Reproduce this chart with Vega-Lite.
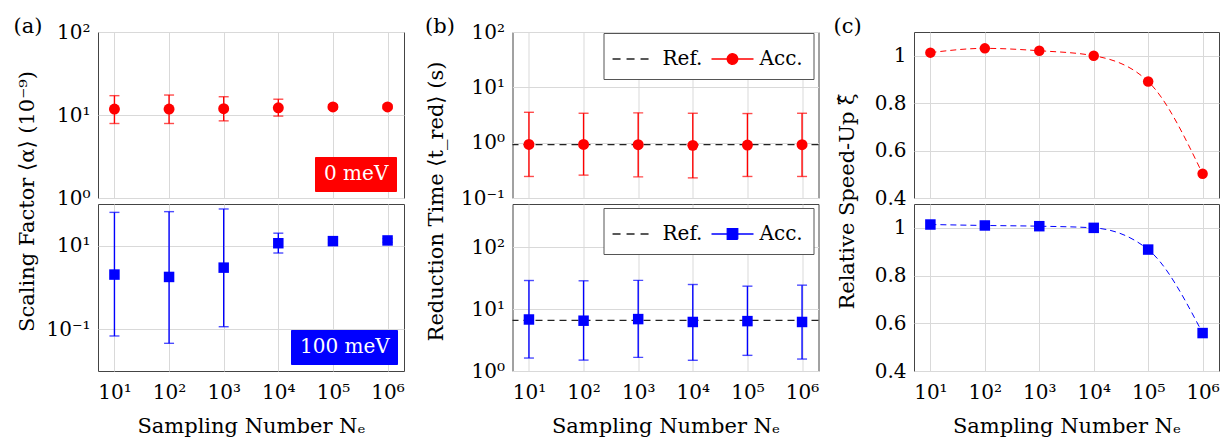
{
  "$schema": "https://vega.github.io/schema/vega-lite/v6.json",
  "background": "white",
  "padding": {"left": 12, "top": 14, "right": 0, "bottom": 0},
  "datasets": {
    "aTop": [
      {"N": 10, "alpha": 11.8, "lo": 7.9, "hi": 17.1, "energy": "0 meV"},
      {"N": 100, "alpha": 11.8, "lo": 7.9, "hi": 17.4, "energy": "0 meV"},
      {"N": 1000, "alpha": 11.9, "lo": 8.5, "hi": 16.6, "energy": "0 meV"},
      {"N": 10000, "alpha": 12.2, "lo": 9.7, "hi": 15.5, "energy": "0 meV"},
      {"N": 100000, "alpha": 12.5, "lo": 11.8, "hi": 13.3, "energy": "0 meV"},
      {"N": 1000000, "alpha": 12.5, "lo": 11.9, "hi": 13.2, "energy": "0 meV"}
    ],
    "aBot": [
      {"N": 10, "alpha": 2.04, "lo": 0.069, "hi": 63, "energy": "100 meV"},
      {"N": 100, "alpha": 1.79, "lo": 0.046, "hi": 65.6, "energy": "100 meV"},
      {"N": 1000, "alpha": 2.99, "lo": 0.115, "hi": 76, "energy": "100 meV"},
      {"N": 10000, "alpha": 11.5, "lo": 6.7, "hi": 20, "energy": "100 meV"},
      {"N": 100000, "alpha": 12.9, "lo": 11.6, "hi": 14.3, "energy": "100 meV"},
      {"N": 1000000, "alpha": 13.4, "lo": 12.1, "hi": 14.8, "energy": "100 meV"}
    ],
    "bTop": [
      {"N": 10, "t": 0.93, "lo": 0.245, "hi": 3.54},
      {"N": 100, "t": 0.93, "lo": 0.259, "hi": 3.40},
      {"N": 1000, "t": 0.92, "lo": 0.241, "hi": 3.46},
      {"N": 10000, "t": 0.894, "lo": 0.231, "hi": 3.40},
      {"N": 100000, "t": 0.905, "lo": 0.245, "hi": 3.36},
      {"N": 1000000, "t": 0.92, "lo": 0.245, "hi": 3.40}
    ],
    "bBot": [
      {"N": 10, "t": 6.8, "lo": 1.62, "hi": 29},
      {"N": 100, "t": 6.5, "lo": 1.50, "hi": 28.7},
      {"N": 1000, "t": 6.9, "lo": 1.66, "hi": 29.2},
      {"N": 10000, "t": 6.2, "lo": 1.49, "hi": 25},
      {"N": 100000, "t": 6.4, "lo": 1.79, "hi": 23.5},
      {"N": 1000000, "t": 6.2, "lo": 1.56, "hi": 24.4}
    ],
    "bTopRef": [{"ref": 0.92}],
    "bBotRef": [{"ref": 6.6}],
    "cTop": [
      {"N": 10, "xi": 1.013},
      {"N": 100, "xi": 1.031},
      {"N": 1000, "xi": 1.021},
      {"N": 10000, "xi": 1.0},
      {"N": 100000, "xi": 0.891},
      {"N": 1000000, "xi": 0.502}
    ],
    "cBot": [
      {"N": 10, "xi": 1.014},
      {"N": 100, "xi": 1.01},
      {"N": 1000, "xi": 1.007},
      {"N": 10000, "xi": 1.0},
      {"N": 100000, "xi": 0.909},
      {"N": 1000000, "xi": 0.559}
    ]
  },
  "config": {
    "font": "DejaVu Serif",
    "view": {"stroke": "#444", "strokeWidth": 1},
    "axis": {
      "labelFont": "DejaVu Serif", "titleFont": "DejaVu Serif",
      "labelFontSize": 20, "titleFontSize": 21, "titleFontWeight": "normal",
      "labelColor": "#000", "titleColor": "#000",
      "grid": true, "gridColor": "#d9d9d9", "gridWidth": 1,
      "domain": false, "ticks": false, "tickSize": 0, "labelPadding": 8,
      "labelFlush": false, "labelOverlap": false
    },
    "legend": {"labelFont": "DejaVu Serif", "labelFontSize": 20, "title": null}
  },
  "align": "none",
  "spacing": 11.5,
  "resolve": {"scale": {"color": "independent", "fill": "independent", "stroke": "independent", "shape": "independent", "strokeDash": "independent"}, "legend": {"color": "independent", "fill": "independent", "stroke": "independent", "shape": "independent", "strokeDash": "independent"}},
  "hconcat": [
    {
      "vconcat": [
        {
          "width": 306, "height": 166,
          "data": {"name": "aTop"},
          "layer": [
            {
              "mark": {"type": "errorbar", "ticks": true, "size": 10, "thickness": 1.4, "color": "#ff0000"},
              "encoding": {
                "x": {"field": "N", "type": "quantitative", "scale": {"type": "log", "domain": [5, 2000000], "nice": false}, "axis": {"orient": "top", "values": [10, 100, 1000, 10000, 100000, 1000000], "labels": false, "title": "(a)", "titleX": -85, "titleY": 0, "titleAlign": "left", "titleBaseline": "alphabetic", "titleAngle": 0}},
                "y": {"field": "lo", "type": "quantitative", "scale": {"type": "log", "domain": [1, 100], "nice": false}, "axis": {"values": [1, 10, 100], "labelExpr": "'10' + ['⁻²','⁻¹','⁰','¹','²','³','⁴','⁵','⁶'][round(log(datum.value)/LN10) + 2]", "title": "Scaling Factor ⟨α⟩ (10⁻⁹)", "titleX": -60.5, "titleY": 169}},
                "y2": {"field": "hi"}
              }
            },
            {
              "mark": {"type": "point", "filled": true, "shape": "circle", "size": 120, "opacity": 1},
              "encoding": {
                "x": {"field": "N", "type": "quantitative", "scale": {"type": "log", "domain": [5, 2000000], "nice": false}, "axis": {"orient": "top", "values": [10, 100, 1000, 10000, 100000, 1000000], "labels": false, "title": "(a)", "titleX": -85, "titleY": 0, "titleAlign": "left", "titleBaseline": "alphabetic", "titleAngle": 0}},
                "y": {"field": "alpha", "type": "quantitative", "scale": {"type": "log", "domain": [1, 100], "nice": false}, "axis": {"values": [1, 10, 100], "labelExpr": "'10' + ['⁻²','⁻¹','⁰','¹','²','³','⁴','⁵','⁶'][round(log(datum.value)/LN10) + 2]", "title": "Scaling Factor ⟨α⟩ (10⁻⁹)", "titleX": -60.5, "titleY": 169}},
                "color": {"field": "energy", "type": "nominal", "scale": {"domain": ["0 meV"], "range": ["#ff0000"]},
                  "legend": {"orient": "none", "legendX": 217, "legendY": 125, "title": null, "padding": 7, "fillColor": "#ff0000", "strokeColor": "#ff0000", "labelColor": "#ffffff", "labelFontSize": 20, "symbolSize": 4, "symbolOpacity": 0, "labelOffset": -18}}
              }
            }
          ]
        },
        {
          "width": 306, "height": 167,
          "data": {"name": "aBot"},
          "layer": [
            {
              "mark": {"type": "errorbar", "ticks": true, "size": 10, "thickness": 1.4, "color": "#0000ff"},
              "encoding": {
                "x": {"field": "N", "type": "quantitative", "scale": {"type": "log", "domain": [5, 2000000], "nice": false}, "axis": {"values": [10, 100, 1000, 10000, 100000, 1000000], "labelExpr": "'10' + ['⁻²','⁻¹','⁰','¹','²','³','⁴','⁵','⁶'][round(log(datum.value)/LN10) + 2]", "labelBaseline": "alphabetic", "labelPadding": 27.6, "title": "Sampling Number Nₑ", "titleBaseline": "alphabetic", "titleX": 153, "titleY": 61}},
                "y": {"field": "lo", "type": "quantitative", "scale": {"type": "log", "domain": [0.01, 100], "nice": false}, "axis": {"values": [0.1, 10], "labelExpr": "'10' + ['⁻²','⁻¹','⁰','¹','²','³','⁴','⁵','⁶'][round(log(datum.value)/LN10) + 2]", "title": " ", "titleX": 313.5, "titleY": 80}},
                "y2": {"field": "hi"}
              }
            },
            {
              "mark": {"type": "point", "filled": true, "shape": "square", "size": 110, "opacity": 1},
              "encoding": {
                "x": {"field": "N", "type": "quantitative", "scale": {"type": "log", "domain": [5, 2000000], "nice": false}, "axis": {"values": [10, 100, 1000, 10000, 100000, 1000000], "labelExpr": "'10' + ['⁻²','⁻¹','⁰','¹','²','³','⁴','⁵','⁶'][round(log(datum.value)/LN10) + 2]", "labelBaseline": "alphabetic", "labelPadding": 27.6, "title": "Sampling Number Nₑ", "titleBaseline": "alphabetic", "titleX": 153, "titleY": 61}},
                "y": {"field": "alpha", "type": "quantitative", "scale": {"type": "log", "domain": [0.01, 100], "nice": false}, "axis": {"values": [0.1, 10], "labelExpr": "'10' + ['⁻²','⁻¹','⁰','¹','²','³','⁴','⁵','⁶'][round(log(datum.value)/LN10) + 2]", "title": " ", "titleX": 313.5, "titleY": 80}},
                "color": {"field": "energy", "type": "nominal", "scale": {"domain": ["100 meV"], "range": ["#0000ff"]},
                  "legend": {"orient": "none", "legendX": 193, "legendY": 126, "title": null, "padding": 7, "fillColor": "#0000ff", "strokeColor": "#0000ff", "labelColor": "#ffffff", "labelFontSize": 20, "symbolSize": 4, "symbolOpacity": 0, "labelOffset": -18}}
              }
            }
          ]
        }
      ],
      "spacing": 6,
      "bounds": "flush",
      "resolve": {"scale": {"color": "independent"}, "legend": {"color": "independent"}}
    },
    {
      "vconcat": [
        {
          "width": 306, "height": 166,
          "layer": [
            {
              "data": {"name": "bTopRef"},
              "mark": {"type": "rule", "color": "#222", "strokeDash": [7, 5], "strokeWidth": 1.3},
              "encoding": {
                "y": {"field": "ref", "type": "quantitative", "scale": {"type": "log", "domain": [0.1, 100], "nice": false}, "axis": {"values": [0.1, 1, 10, 100], "labelExpr": "'10' + ['⁻²','⁻¹','⁰','¹','²','³','⁴','⁵','⁶'][round(log(datum.value)/LN10) + 2]", "title": "Reduction Time ⟨t_red⟩ (s)", "titleX": -66, "titleY": 169}}
              }
            },
            {
              "data": {"name": "bTop"},
              "mark": {"type": "errorbar", "ticks": true, "size": 10, "thickness": 1.4, "color": "#ff0000"},
              "encoding": {
                "x": {"field": "N", "type": "quantitative", "scale": {"type": "log", "domain": [5, 2000000], "nice": false}, "axis": {"orient": "top", "values": [10, 100, 1000, 10000, 100000, 1000000], "labels": false, "title": "(b)", "titleX": -88, "titleY": 0, "titleAlign": "left", "titleBaseline": "alphabetic", "titleAngle": 0}},
                "y": {"field": "lo", "type": "quantitative", "scale": {"type": "log", "domain": [0.1, 100], "nice": false}, "axis": {"values": [0.1, 1, 10, 100], "labelExpr": "'10' + ['⁻²','⁻¹','⁰','¹','²','³','⁴','⁵','⁶'][round(log(datum.value)/LN10) + 2]", "title": "Reduction Time ⟨t_red⟩ (s)", "titleX": -66, "titleY": 169}},
                "y2": {"field": "hi"}
              }
            },
            {
              "data": {"name": "bTop"},
              "mark": {"type": "point", "filled": true, "shape": "circle", "size": 120, "opacity": 1, "color": "#ff0000"},
              "encoding": {
                "x": {"field": "N", "type": "quantitative", "scale": {"type": "log", "domain": [5, 2000000], "nice": false}, "axis": {"orient": "top", "values": [10, 100, 1000, 10000, 100000, 1000000], "labels": false, "title": "(b)", "titleX": -88, "titleY": 0, "titleAlign": "left", "titleBaseline": "alphabetic", "titleAngle": 0}},
                "y": {"field": "t", "type": "quantitative", "scale": {"type": "log", "domain": [0.1, 100], "nice": false}, "axis": {"values": [0.1, 1, 10, 100], "labelExpr": "'10' + ['⁻²','⁻¹','⁰','¹','²','³','⁴','⁵','⁶'][round(log(datum.value)/LN10) + 2]", "title": "Reduction Time ⟨t_red⟩ (s)", "titleX": -66, "titleY": 169}}
              }
            },
            {
              "data": {"values": []},
              "mark": {"type": "point", "opacity": 1, "strokeWidth": 1.3},
              "encoding": {
                "fill": {"field": "series", "type": "nominal", "scale": {"domain": ["Ref.", "Acc."], "range": ["transparent", "#ff0000"]},
                  "legend": {"orient": "none", "legendX": 91, "legendY": 1, "direction": "horizontal", "title": null, "padding": 10, "strokeColor": "#555", "fillColor": "#ffffff", "cornerRadius": 0, "symbolSize": 900, "labelOffset": 17, "columnPadding": 6, "labelFontSize": 20, "labelColor": "#000", "symbolStrokeWidth": 1.3}},
                "stroke": {"field": "series", "type": "nominal", "scale": {"domain": ["Ref.", "Acc."], "range": ["#222222", "#ff0000"]}},
                "shape": {"field": "series", "type": "nominal", "scale": {"domain": ["Ref.", "Acc."], "range": ["M-1.13,0H1.33", "M-1,0H1.8M0.05,0A0.35,0.35 0 1,1 0.75,0A0.35,0.35 0 1,1 0.05,0Z"]}},
                "strokeDash": {"field": "series", "type": "nominal", "scale": {"domain": ["Ref.", "Acc."], "range": [[8, 6], [1, 0]]}}
              }
            }
          ]
        },
        {
          "width": 306, "height": 167,
          "layer": [
            {
              "data": {"name": "bBotRef"},
              "mark": {"type": "rule", "color": "#222", "strokeDash": [7, 5], "strokeWidth": 1.3},
              "encoding": {
                "y": {"field": "ref", "type": "quantitative", "scale": {"type": "log", "domain": [1, 500], "nice": false}, "axis": {"values": [1, 10, 100], "labelExpr": "'10' + ['⁻²','⁻¹','⁰','¹','²','³','⁴','⁵','⁶'][round(log(datum.value)/LN10) + 2]", "title": null}}
              }
            },
            {
              "data": {"name": "bBot"},
              "mark": {"type": "errorbar", "ticks": true, "size": 10, "thickness": 1.4, "color": "#0000ff"},
              "encoding": {
                "x": {"field": "N", "type": "quantitative", "scale": {"type": "log", "domain": [5, 2000000], "nice": false}, "axis": {"values": [10, 100, 1000, 10000, 100000, 1000000], "labelExpr": "'10' + ['⁻²','⁻¹','⁰','¹','²','³','⁴','⁵','⁶'][round(log(datum.value)/LN10) + 2]", "labelBaseline": "alphabetic", "labelPadding": 27.6, "title": "Sampling Number Nₑ", "titleBaseline": "alphabetic", "titleX": 153, "titleY": 61}},
                "y": {"field": "lo", "type": "quantitative", "scale": {"type": "log", "domain": [1, 500], "nice": false}, "axis": {"values": [1, 10, 100], "labelExpr": "'10' + ['⁻²','⁻¹','⁰','¹','²','³','⁴','⁵','⁶'][round(log(datum.value)/LN10) + 2]", "title": null}},
                "y2": {"field": "hi"}
              }
            },
            {
              "data": {"name": "bBot"},
              "mark": {"type": "point", "filled": true, "shape": "square", "size": 110, "opacity": 1, "color": "#0000ff"},
              "encoding": {
                "x": {"field": "N", "type": "quantitative", "scale": {"type": "log", "domain": [5, 2000000], "nice": false}, "axis": {"values": [10, 100, 1000, 10000, 100000, 1000000], "labelExpr": "'10' + ['⁻²','⁻¹','⁰','¹','²','³','⁴','⁵','⁶'][round(log(datum.value)/LN10) + 2]", "labelBaseline": "alphabetic", "labelPadding": 27.6, "title": "Sampling Number Nₑ", "titleBaseline": "alphabetic", "titleX": 153, "titleY": 61}},
                "y": {"field": "t", "type": "quantitative", "scale": {"type": "log", "domain": [1, 500], "nice": false}, "axis": {"values": [1, 10, 100], "labelExpr": "'10' + ['⁻²','⁻¹','⁰','¹','²','³','⁴','⁵','⁶'][round(log(datum.value)/LN10) + 2]", "title": null}}
              }
            },
            {
              "data": {"values": []},
              "mark": {"type": "point", "opacity": 1, "strokeWidth": 1.3},
              "encoding": {
                "fill": {"field": "series", "type": "nominal", "scale": {"domain": ["Ref.", "Acc."], "range": ["transparent", "#0000ff"]},
                  "legend": {"orient": "none", "legendX": 91, "legendY": 4, "direction": "horizontal", "title": null, "padding": 10, "strokeColor": "#555", "fillColor": "#ffffff", "cornerRadius": 0, "symbolSize": 900, "labelOffset": 17, "columnPadding": 6, "labelFontSize": 20, "labelColor": "#000", "symbolStrokeWidth": 1.3}},
                "stroke": {"field": "series", "type": "nominal", "scale": {"domain": ["Ref.", "Acc."], "range": ["#222222", "#0000ff"]}},
                "shape": {"field": "series", "type": "nominal", "scale": {"domain": ["Ref.", "Acc."], "range": ["M-1.13,0H1.33", "M-1,0H1.8M0.05,-0.35H0.75V0.35H0.05Z"]}},
                "strokeDash": {"field": "series", "type": "nominal", "scale": {"domain": ["Ref.", "Acc."], "range": [[8, 6], [1, 0]]}}
              }
            }
          ]
        }
      ],
      "spacing": 6,
      "bounds": "flush",
      "resolve": {"scale": {"fill": "independent", "stroke": "independent", "shape": "independent", "strokeDash": "independent"}, "legend": {"fill": "independent", "stroke": "independent", "shape": "independent", "strokeDash": "independent"}}
    },
    {
      "vconcat": [
        {
          "width": 305, "height": 166,
          "data": {"name": "cTop"},
          "layer": [
            {
              "mark": {"type": "line", "color": "#ff0000", "strokeDash": [6, 4], "strokeWidth": 1, "interpolate": "monotone"},
              "encoding": {
                "x": {"field": "N", "type": "quantitative", "scale": {"type": "log", "domain": [5, 2000000], "nice": false}, "axis": {"orient": "top", "values": [10, 100, 1000, 10000, 100000, 1000000], "labels": false, "title": "(c)", "titleX": -81, "titleY": 0, "titleAlign": "left", "titleBaseline": "alphabetic", "titleAngle": 0}},
                "y": {"field": "xi", "type": "quantitative", "scale": {"domain": [0.4, 1.1], "nice": false, "zero": false}, "axis": {"values": [0.4, 0.6, 0.8, 1], "format": "~g", "title": "Relative Speed-Up ξ̂", "titleX": -56.5, "titleY": 169}}
              }
            },
            {
              "mark": {"type": "point", "filled": true, "shape": "circle", "size": 110, "opacity": 1, "color": "#ff0000"},
              "encoding": {
                "x": {"field": "N", "type": "quantitative", "scale": {"type": "log", "domain": [5, 2000000], "nice": false}, "axis": {"orient": "top", "values": [10, 100, 1000, 10000, 100000, 1000000], "labels": false, "title": "(c)", "titleX": -81, "titleY": 0, "titleAlign": "left", "titleBaseline": "alphabetic", "titleAngle": 0}},
                "y": {"field": "xi", "type": "quantitative", "scale": {"domain": [0.4, 1.1], "nice": false, "zero": false}, "axis": {"values": [0.4, 0.6, 0.8, 1], "format": "~g", "title": "Relative Speed-Up ξ̂", "titleX": -56.5, "titleY": 169}}
              }
            }
          ]
        },
        {
          "width": 305, "height": 167,
          "data": {"name": "cBot"},
          "layer": [
            {
              "mark": {"type": "line", "color": "#0000ff", "strokeDash": [6, 4], "strokeWidth": 1, "interpolate": "monotone"},
              "encoding": {
                "x": {"field": "N", "type": "quantitative", "scale": {"type": "log", "domain": [5, 2000000], "nice": false}, "axis": {"values": [10, 100, 1000, 10000, 100000, 1000000], "labelExpr": "'10' + ['⁻²','⁻¹','⁰','¹','²','³','⁴','⁵','⁶'][round(log(datum.value)/LN10) + 2]", "labelBaseline": "alphabetic", "labelPadding": 27.6, "title": "Sampling Number Nₑ", "titleBaseline": "alphabetic", "titleX": 152.5, "titleY": 61}},
                "y": {"field": "xi", "type": "quantitative", "scale": {"domain": [0.4, 1.1], "nice": false, "zero": false}, "axis": {"values": [0.4, 0.6, 0.8, 1], "format": "~g", "title": null}}
              }
            },
            {
              "mark": {"type": "point", "filled": true, "shape": "square", "size": 110, "opacity": 1, "color": "#0000ff"},
              "encoding": {
                "x": {"field": "N", "type": "quantitative", "scale": {"type": "log", "domain": [5, 2000000], "nice": false}, "axis": {"values": [10, 100, 1000, 10000, 100000, 1000000], "labelExpr": "'10' + ['⁻²','⁻¹','⁰','¹','²','³','⁴','⁵','⁶'][round(log(datum.value)/LN10) + 2]", "labelBaseline": "alphabetic", "labelPadding": 27.6, "title": "Sampling Number Nₑ", "titleBaseline": "alphabetic", "titleX": 152.5, "titleY": 61}},
                "y": {"field": "xi", "type": "quantitative", "scale": {"domain": [0.4, 1.1], "nice": false, "zero": false}, "axis": {"values": [0.4, 0.6, 0.8, 1], "format": "~g", "title": null}}
              }
            }
          ]
        }
      ],
      "spacing": 6,
      "bounds": "flush"
    }
  ]
}
